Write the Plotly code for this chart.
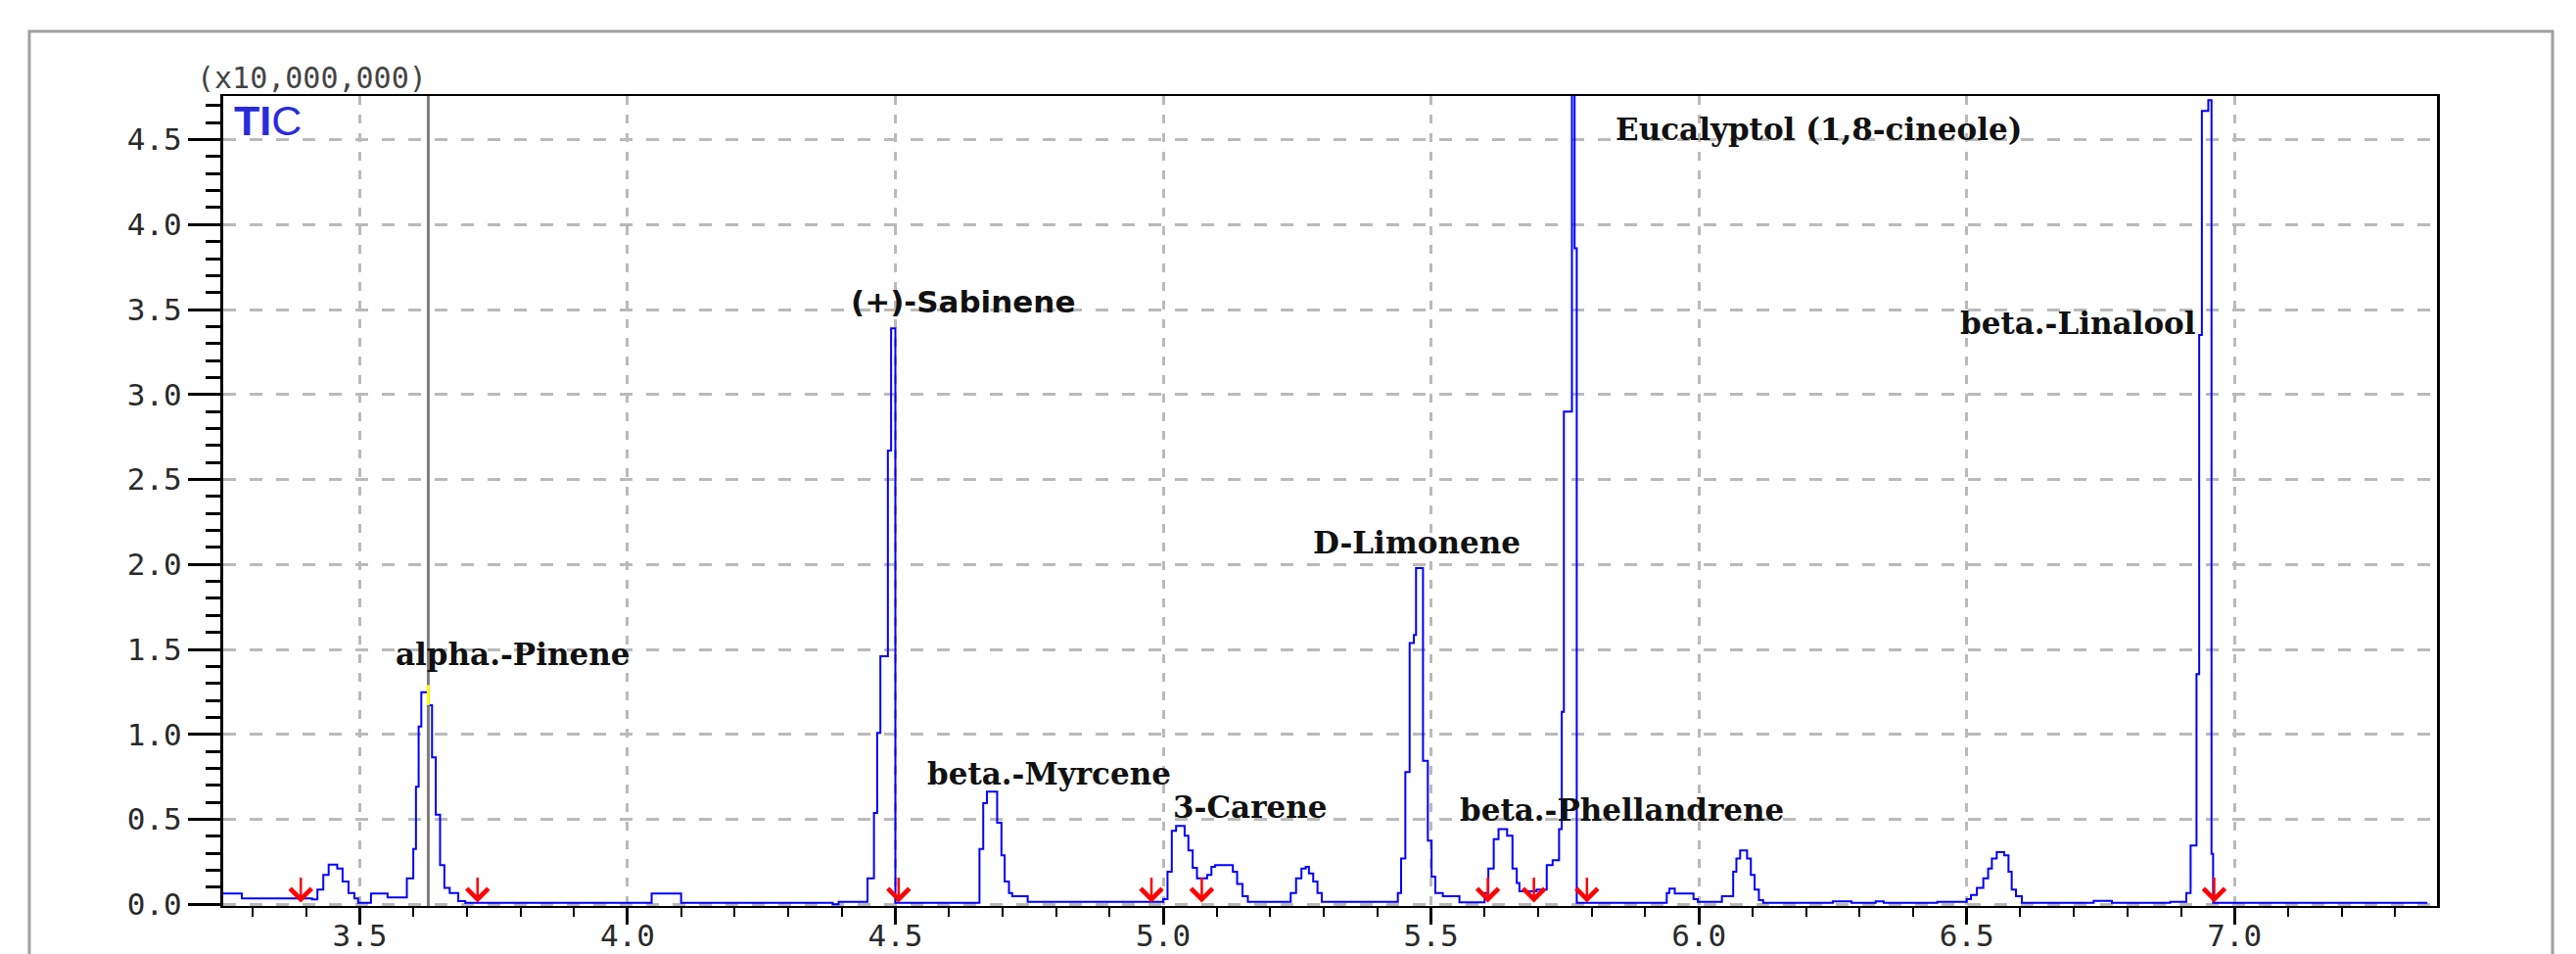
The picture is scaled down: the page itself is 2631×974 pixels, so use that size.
import plotly.graph_objects as go

# ---- Data (step trace) ----
# retention time (min)
time_min = [
    3.245, 3.280, 3.411, 3.421, 3.432, 3.442, 3.458, 3.468, 3.479, 3.490, 3.497, 3.521, 3.552,
    3.588, 3.600, 3.605, 3.610, 3.615, 3.628, 3.635, 3.642, 3.650, 3.658, 3.668, 3.684, 3.697,
    4.045, 4.100, 4.383, 4.394,
    4.448, 4.460, 4.466, 4.472, 4.486, 4.492, 4.500,
    4.657, 4.664, 4.671, 4.690, 4.698, 4.704, 4.712, 4.718, 4.747,
    5.000, 5.008, 5.016, 5.024, 5.040, 5.047, 5.055, 5.063, 5.082, 5.090, 5.097, 5.130, 5.138,
    5.148, 5.158,
    5.238, 5.248, 5.258, 5.266, 5.272, 5.280, 5.288, 5.296,
    5.438, 5.444, 5.452, 5.460, 5.468, 5.472, 5.485, 5.494, 5.501, 5.508, 5.522, 5.553,
    5.600, 5.607, 5.617, 5.626, 5.642, 5.652, 5.660, 5.665, 5.697, 5.716, 5.727,
    5.739, 5.744, 5.748, 5.763, 5.768, 5.772,
    5.940, 5.945, 5.955, 5.990, 5.998, 6.043, 6.064, 6.070, 6.077, 6.090, 6.097, 6.104, 6.112, 6.120,
    6.250, 6.285, 6.330, 6.345,
    6.445, 6.500, 6.508, 6.519, 6.531, 6.540, 6.547, 6.556, 6.570, 6.578, 6.584, 6.592, 6.603,
    6.737, 6.771,
    6.880, 6.910, 6.918, 6.929, 6.934, 6.939, 6.951, 6.957, 6.960,
    7.360,
]
# TIC intensity (x10,000,000)
intensity = [
    0.063, 0.035, 0.029, 0.086, 0.173, 0.234, 0.211, 0.134, 0.067, 0.035, 0.009, 0.063, 0.040,
    0.153, 0.326, 0.692, 1.047, 1.248, 1.172, 0.865, 0.528, 0.230, 0.096, 0.067, 0.019, 0.009,
    0.063, 0.009, 0.000, 0.015,
    0.153, 0.538, 1.009, 1.460, 2.670, 3.390, 0.009,
    0.326, 0.595, 0.663, 0.480, 0.288, 0.134, 0.067, 0.048, 0.015,
    0.030, 0.192, 0.432, 0.461, 0.403, 0.317, 0.215, 0.153, 0.173, 0.220, 0.230, 0.192, 0.120,
    0.048, 0.015,
    0.067, 0.153, 0.211, 0.220, 0.182, 0.134, 0.067, 0.015,
    0.067, 0.269, 0.778, 1.537, 1.585, 1.979, 0.845, 0.375, 0.163, 0.067, 0.048, 0.012,
    0.067, 0.211, 0.384, 0.442, 0.403, 0.211, 0.125, 0.076, 0.086, 0.230, 0.260,
    0.442, 1.133, 2.900, 6.000, 3.860, 0.009,
    0.067, 0.092, 0.063, 0.030, 0.015, 0.048, 0.192, 0.269, 0.317, 0.269, 0.173, 0.086, 0.025, 0.009,
    0.018, 0.009, 0.018, 0.009,
    0.015, 0.030, 0.055, 0.096, 0.153, 0.211, 0.269, 0.307, 0.288, 0.192, 0.086, 0.048, 0.009,
    0.020, 0.009,
    0.015, 0.067, 0.346, 1.354, 3.350, 4.669, 4.733, 0.297, 0.009,
    0.009,
]

# peak labels
peak_names = ["alpha.-Pinene", "(+)-Sabinene", "beta.-Myrcene", "3-Carene", "D-Limonene",
              "beta.-Phellandrene", "Eucalyptol (1,8-cineole)", "beta.-Linalool"]
label_time = [3.786, 4.626, 4.787, 5.162, 5.474, 5.857, 6.223, 6.708]
label_level = [1.471, 3.546, 0.766, 0.572, 2.129, 0.555, 4.561, 3.420]

# integration start/end marks (red arrows)
mark_times = [3.390, 3.720, 4.506, 4.978, 5.072, 5.606, 5.692, 5.791, 6.962]
mark_level = 0.01

# cursor line and apex highlight
cursor_time = 3.628
apex_range = [1.17, 1.29]

# axes
x_ticks = [3.5, 4.0, 4.5, 5.0, 5.5, 6.0, 6.5, 7.0]
x_tick_labels = ["3.5", "4.0", "4.5", "5.0", "5.5", "6.0", "6.5", "7.0"]
y_ticks = [0.0, 0.5, 1.0, 1.5, 2.0, 2.5, 3.0, 3.5, 4.0, 4.5]
y_tick_labels = ["0.0", "0.5", "1.0", "1.5", "2.0", "2.5", "3.0", "3.5", "4.0", "4.5"]
x_minor = [round(3.3 + 0.1 * i, 1) for i in range(41)]
y_minor = [round(0.1 * i, 1) for i in range(48)]
x_range = [3.2452, 7.3779]
y_range = [-0.01, 4.757]

fig = go.Figure()
fig.add_trace(go.Scatter(x=time_min, y=intensity, mode="lines", line_shape="hv",
                         line=dict(color="#0000ff", width=2), showlegend=False, hoverinfo="skip"))
fig.add_trace(go.Scatter(x=[cursor_time, cursor_time], y=apex_range, mode="lines",
                         line=dict(color="#ffff00", width=3), showlegend=False, hoverinfo="skip"))

annotations = []
for name, t, v in zip(peak_names, label_time, label_level):
    fam = "DejaVu Sans" if name.startswith("(+)") else "DejaVu Serif"
    annotations.append(dict(x=t, y=v, xref="x", yref="y", text=name, showarrow=False,
                            xanchor="center", yanchor="middle",
                            font=dict(family=fam, size=31, color="#111111", weight="bold")))
for t in mark_times:
    annotations.append(dict(x=t, y=mark_level, xref="x", yref="y", text="", showarrow=True,
                            ax=0, ay=-27, axref="pixel", ayref="pixel",
                            arrowhead=4, arrowsize=1.7, arrowwidth=2.5, arrowcolor="#ff0000"))
annotations.append(dict(x=0.004, y=1.0012, xref="paper", yref="paper", text="<b>TI</b>C",
                        showarrow=False, xanchor="left", yanchor="top",
                        font=dict(family="Liberation Sans", size=43, color="#2b2bdb")))
annotations.append(dict(x=-0.013, y=1.0218, xref="paper", yref="paper", text="(x10,000,000)",
                        showarrow=False, xanchor="left", yanchor="middle",
                        font=dict(family="DejaVu Sans Mono", size=30, color="#444444")))

shapes = [
    dict(type="line", xref="x", yref="paper", x0=cursor_time, x1=cursor_time, y0=0, y1=1,
         line=dict(color="#7d7d7d", width=3), layer="between"),
    dict(type="rect", xref="paper", yref="paper", x0=-0.0876, x1=1.0522, y0=-0.2, y1=1.0798,
         line=dict(color="#a0a0a0", width=3), fillcolor="rgba(0,0,0,0)", layer="below"),
]

tickfont = dict(family="DejaVu Sans Mono", size=31, color="#2a2a2a")
# the page body has an 8px margin, so the figure is 8px smaller and its margins compensate
fig.update_layout(
    width=2623, height=966,
    margin=dict(l=220, r=142, t=90, b=49, pad=0),
    paper_bgcolor="white", plot_bgcolor="white",
    annotations=annotations, shapes=shapes,
    xaxis=dict(range=x_range, tickmode="array", tickvals=x_ticks, ticktext=x_tick_labels,
               ticks="outside", ticklen=17, tickwidth=3, tickcolor="black", tickfont=tickfont,
               ticklabelstandoff=-15, automargin=False,
               showline=True, linecolor="black", linewidth=2, mirror=True,
               showgrid=True, gridcolor="#bababa", gridwidth=3, griddash="9px,10px",
               zeroline=False,
               minor=dict(tickmode="array", tickvals=x_minor, ticks="outside", ticklen=9,
                          tickwidth=2, tickcolor="black", showgrid=False)),
    yaxis=dict(range=y_range, tickmode="array", tickvals=y_ticks, ticktext=y_tick_labels,
               ticks="outside", ticklen=33, tickwidth=3, tickcolor="black", tickfont=tickfont,
               automargin=False,
               showline=True, linecolor="black", linewidth=3, mirror=True,
               showgrid=True, gridcolor="#bababa", gridwidth=3, griddash="13px,14px",
               zeroline=False,
               minor=dict(tickmode="array", tickvals=y_minor, ticks="outside", ticklen=15,
                          tickwidth=3, tickcolor="black", showgrid=False)),
)

fig.write_html("out.html")
